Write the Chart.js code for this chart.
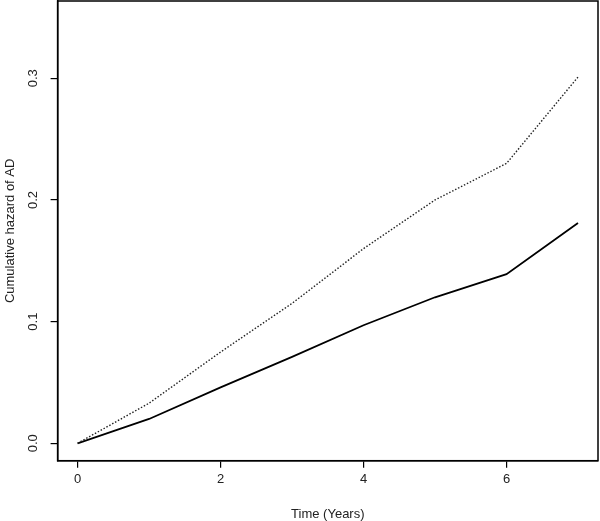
<!DOCTYPE html>
<html>
<head>
<meta charset="utf-8">
<script src="https://cdn.jsdelivr.net/npm/chart.js@4"></script>
<style>
  body { margin: 0; background: #fff; }
  #wrap { width: 600px; height: 521px; }
</style>
</head>
<body>
<div id="wrap"><canvas id="hazardChart"></canvas></div>
<script>
// values
const years = [0, 1, 2, 3, 4, 5, 6, 7];
const hazardDotted = [0, 0.033, 0.075, 0.115, 0.160, 0.200, 0.230, 0.301];
const hazardSolid = [0, 0.020, 0.046, 0.071, 0.097, 0.120, 0.139, 0.181];
const xTicks = [0, 2, 4, 6];
const yTicks = [0, 0.1, 0.2, 0.3];
const yTickLabels = ['0.0', '0.1', '0.2', '0.3'];

const FONT = '"Liberation Sans", Arial, sans-serif';

function toPoints(ys) {
    return years.map((x, i) => ({ x: x, y: ys[i] }));
}

// R style box, rotated y tick labels and axis titles
const rFrame = {
    id: 'rFrame',
    afterDraw(chart) {
        const { ctx, chartArea: a, scales: { y } } = chart;
        ctx.save();
        ctx.strokeStyle = '#000';
        ctx.lineWidth = 1.5;
        ctx.strokeRect(a.left, a.top, a.right - a.left, a.bottom - a.top);

        ctx.fillStyle = '#222';
        ctx.font = '13px ' + FONT;
        ctx.textAlign = 'center';
        ctx.textBaseline = 'middle';
        yTicks.forEach((v, i) => {
            ctx.save();
            ctx.translate(33, y.getPixelForValue(v));
            ctx.rotate(-Math.PI / 2);
            ctx.fillText(yTickLabels[i], 0, 0);
            ctx.restore();
        });

        ctx.save();
        ctx.translate(10, (a.top + a.bottom) / 2);
        ctx.rotate(-Math.PI / 2);
        ctx.fillText('Cumulative hazard of AD', 0, 0);
        ctx.restore();

        ctx.fillText('Time (Years)', (a.left + a.right) / 2, 514);
        ctx.restore();
    }
};

new Chart(document.getElementById('hazardChart'), {
    type: 'line',
    data: {
        datasets: [
            {
                label: 'dotted',
                data: toPoints(hazardDotted),
                borderColor: '#222',
                borderWidth: 1.4,
                borderDash: [1.5, 1.8],
                pointRadius: 0,
                tension: 0
            },
            {
                label: 'solid',
                data: toPoints(hazardSolid),
                borderColor: '#000',
                borderWidth: 1.8,
                pointRadius: 0,
                tension: 0
            }
        ]
    },
    options: {
        responsive: true,
        maintainAspectRatio: false,
        animation: false,
        layout: { padding: { top: 1, right: 2, left: 0, bottom: 0 } },
        plugins: { legend: { display: false }, tooltip: { enabled: false } },
        scales: {
            x: {
                type: 'linear',
                min: -0.28,
                max: 7.28,
                afterBuildTicks: s => { s.ticks = xTicks.map(v => ({ value: v })); },
                afterFit: s => { s.height = 60.3; },
                grid: { drawOnChartArea: false, color: '#000', lineWidth: 1.2, tickLength: 7 },
                border: { color: '#000', width: 1.5 },
                ticks: { color: '#222', font: { family: FONT, size: 13 }, padding: 4, maxRotation: 0 }
            },
            y: {
                min: -0.0143,
                max: 0.3635,
                afterBuildTicks: s => { s.ticks = yTicks.map(v => ({ value: v })); },
                afterFit: s => { s.width = 57.6; },
                grid: { drawOnChartArea: false, color: '#000', lineWidth: 1.2, tickLength: 7 },
                border: { color: '#000', width: 1.5 },
                ticks: { display: false }
            }
        }
    },
    plugins: [rFrame]
});
</script>
</body>
</html>
